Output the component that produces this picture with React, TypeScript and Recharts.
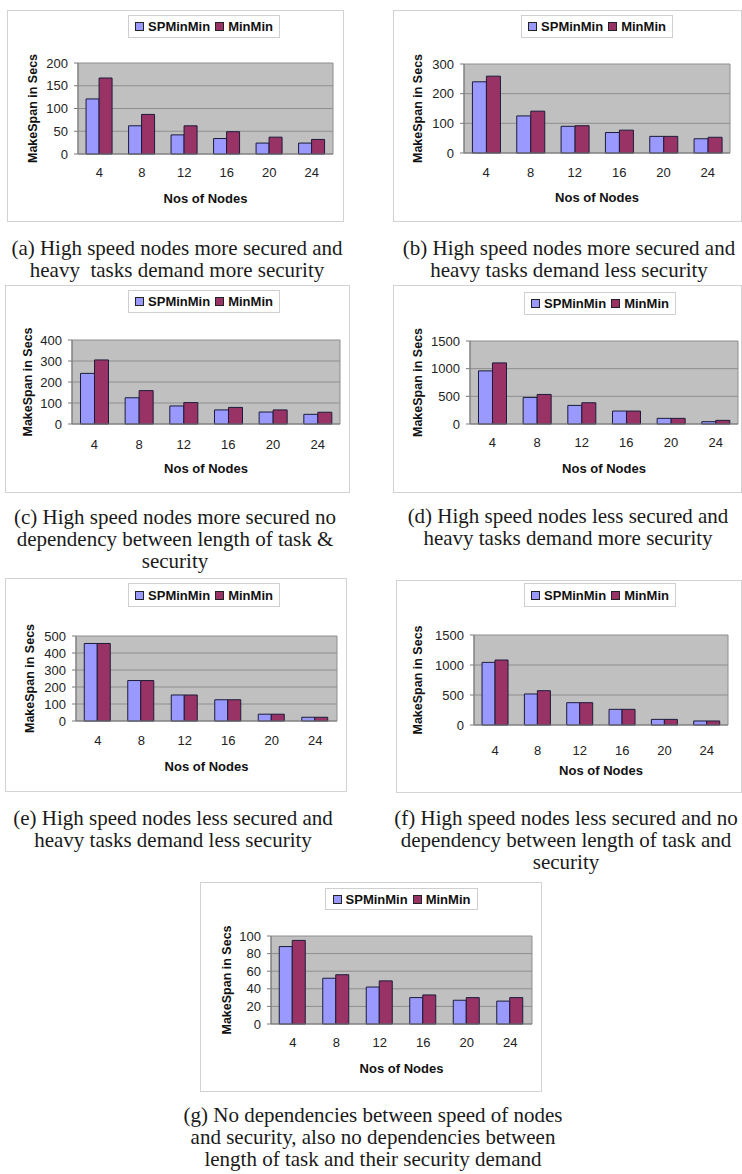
import React from 'react';
import { BarChart, Bar, XAxis, YAxis, CartesianGrid, Legend } from 'recharts';

const nodes = ['4', '8', '12', '16', '20', '24'];

const spA = [121, 62, 42, 34, 24, 24];
const mmA = [167, 87, 62, 49, 37, 32];
const ticksA = [0, 50, 100, 150, 200];

const spB = [240, 125, 90, 69, 56, 48];
const mmB = [259, 141, 92, 77, 56, 53];
const ticksB = [0, 100, 200, 300];

const spC = [241, 125, 86, 67, 57, 46];
const mmC = [305, 159, 102, 79, 67, 56];
const ticksC = [0, 100, 200, 300, 400];

const spD = [960, 480, 336, 234, 102, 42];
const mmD = [1104, 534, 384, 234, 102, 66];
const ticksD = [0, 500, 1000, 1500];

const spE = [456, 238, 153, 125, 40, 22];
const mmE = [456, 238, 153, 125, 40, 22];
const ticksE = [0, 100, 200, 300, 400, 500];

const spF = [1044, 517, 372, 261, 94, 67];
const mmF = [1083, 572, 372, 261, 94, 67];
const ticksF = [0, 500, 1000, 1500];

const spG = [88, 52, 42, 30, 27, 26];
const mmG = [95, 56, 49, 33, 30, 30];
const ticksG = [0, 20, 40, 60, 80, 100];

const captionA = ['(a) High speed nodes more secured and', 'heavy  tasks demand more security'];
const captionB = ['(b) High speed nodes more secured and', 'heavy tasks demand less security'];
const captionC = ['(c) High speed nodes more secured no', 'dependency between length of task &', 'security'];
const captionD = ['(d) High speed nodes less secured and', 'heavy tasks demand more security'];
const captionE = ['(e) High speed nodes less secured and', 'heavy tasks demand less security'];
const captionF = ['(f) High speed nodes less secured and no', 'dependency between length of task and', 'security'];
const captionG = ['(g) No dependencies between speed of nodes', 'and security, also no dependencies between', 'length of task and their security demand'];

const SERIES_SP = 'SPMinMin';
const SERIES_MM = 'MinMin';
const SERIES_ORDER = [SERIES_SP, SERIES_MM];
const X_TITLE = 'Nos of Nodes';
const Y_TITLE = 'MakeSpan in Secs';

const SANS = '"Liberation Sans", Arial, sans-serif';
const SERIF = '"Liberation Serif", "Times New Roman", serif';

type Rect = [number, number, number, number];

interface PanelSpec {
  frame: Rect;
  plot: Rect;
  legend: Rect;
  yTitleX: number;
  tickOff: number;
  titleOff: number;
  sp: number[];
  mm: number[];
  ticks: number[];
  caption: string[];
  capX: number;
  capTop: number;
}

const panels: PanelSpec[] = [
  { frame: [7, 10, 337, 212], plot: [78, 63, 255, 91], legend: [128, 15, 152, 23], yTitleX: 33, tickOff: 19, titleOff: 44, sp: spA, mm: mmA, ticks: ticksA, caption: captionA, capX: 177, capTop: 237 },
  { frame: [393, 10, 349, 212], plot: [464, 64, 266, 89], legend: [521, 15, 152, 23], yTitleX: 418, tickOff: 20, titleOff: 44, sp: spB, mm: mmB, ticks: ticksB, caption: captionB, capX: 569, capTop: 237 },
  { frame: [5, 285, 345, 208], plot: [72, 340, 268, 84], legend: [128, 290, 152, 23], yTitleX: 28, tickOff: 21, titleOff: 44, sp: spC, mm: mmC, ticks: ticksC, caption: captionC, capX: 175, capTop: 506 },
  { frame: [393, 285, 349, 208], plot: [470, 341, 268, 83], legend: [524, 292, 152, 23], yTitleX: 418, tickOff: 19, titleOff: 44, sp: spD, mm: mmD, ticks: ticksD, caption: captionD, capX: 568, capTop: 505 },
  { frame: [5, 578, 342, 214], plot: [76, 636, 261, 85], legend: [128, 583, 152, 24], yTitleX: 30, tickOff: 20, titleOff: 45, sp: spE, mm: mmE, ticks: ticksE, caption: captionE, capX: 173, capTop: 807 },
  { frame: [396, 580, 346, 213], plot: [474, 635, 254, 90], legend: [524, 583, 152, 24], yTitleX: 418, tickOff: 26, titleOff: 45, sp: spF, mm: mmF, ticks: ticksF, caption: captionF, capX: 566, capTop: 807 },
  { frame: [200, 882, 342, 210], plot: [271, 936, 261, 88], legend: [325, 888, 153, 22], yTitleX: 227, tickOff: 19, titleOff: 44, sp: spG, mm: mmG, ticks: ticksG, caption: captionG, capX: 373, capTop: 1104 },
];

function LegendBox(props: any) {
  const payload = [...(props.payload || [])].sort(
    (a: any, b: any) => SERIES_ORDER.indexOf(a.value) - SERIES_ORDER.indexOf(b.value)
  );
  return (
    <div
      style={{
        boxSizing: 'border-box',
        width: '100%',
        height: '100%',
        background: '#fff',
        border: '1px solid #cfcfcf',
        display: 'flex',
        alignItems: 'center',
        justifyContent: 'center',
        gap: 5,
        fontFamily: SANS,
        fontWeight: 'bold',
        fontSize: 13,
        color: '#111',
      }}
    >
      {payload.map((e: any) => (
        <span key={e.value} style={{ display: 'flex', alignItems: 'center' }}>
          <span
            style={{
              display: 'inline-block',
              width: 7,
              height: 7,
              background: e.color,
              border: '1px solid #222',
              marginRight: 4,
            }}
          />
          <span>{e.value}</span>
        </span>
      ))}
    </div>
  );
}

function Panel({ p }: { p: PanelSpec }) {
  const [fx, fy, fw, fh] = p.frame;
  const [px, py, pw, ph] = p.plot;
  const [lx, ly, lw, lh] = p.legend;
  const YW = 40;
  const XH = 30;
  const margin = {
    top: py - fy,
    left: px - fx - YW,
    right: fx + fw - (px + pw),
    bottom: fy + fh - (py + ph) - XH,
  };
  const data = nodes.map((n, i) => ({ n, sp: p.sp[i], mm: p.mm[i] }));
  const max = p.ticks[p.ticks.length - 1];
  const ytx = p.yTitleX - fx;
  const yty = py + ph / 2 - fy;
  const xtx = px + pw / 2 - fx;
  const xty = py + ph + p.titleOff - fy;

  const YTitle = () => (
    <text
      x={ytx}
      y={yty}
      transform={`rotate(-90 ${ytx} ${yty})`}
      textAnchor="middle"
      dominantBaseline="central"
      fontFamily={SANS}
      fontWeight="bold"
      fontSize={12.5}
      fill="#111"
    >
      {Y_TITLE}
    </text>
  );
  const XTitle = () => (
    <text
      x={xtx}
      y={xty}
      textAnchor="middle"
      dominantBaseline="central"
      fontFamily={SANS}
      fontWeight="bold"
      fontSize={13}
      fill="#111"
    >
      {X_TITLE}
    </text>
  );

  return (
    <>
      <div
        style={{
          position: 'absolute',
          left: fx,
          top: fy,
          width: fw,
          height: fh,
          background: '#fff',
          outline: '1px solid #d2d2d2',
          outlineOffset: -1,
        }}
      >
        <BarChart
          width={fw}
          height={fh}
          data={data}
          margin={margin}
          barCategoryGap="19%"
          barGap={0}
        >
          <CartesianGrid
            vertical={true}
            horizontal={true}
            verticalPoints={[px - fx, px - fx + pw]}
            stroke="#8e8e8e"
            fill="#c0c0c0"
            fillOpacity={1}
          />
          <XAxis
            dataKey="n"
            height={XH}
            tickLine={false}
            tickSize={0}
            tickMargin={p.tickOff - 5}
            axisLine={{ stroke: '#7a7a7a' }}
            tick={{ fontFamily: SANS, fontSize: 13, fill: '#222' }}
            label={{ value: X_TITLE, content: XTitle }}
          />
          <YAxis
            width={YW}
            domain={[0, max]}
            ticks={p.ticks}
            interval={0}
            tickSize={4}
            tickMargin={6}
            tickLine={{ stroke: '#7a7a7a' }}
            axisLine={{ stroke: '#7a7a7a' }}
            tick={{ fontFamily: SANS, fontSize: 13, fill: '#222' }}
            label={{ value: Y_TITLE, content: YTitle }}
          />
          <Legend
            verticalAlign="middle"
            align="center"
            layout="horizontal"
            wrapperStyle={{ left: lx - fx, top: ly - fy, width: lw, height: lh }}
            content={LegendBox}
          />
          <Bar dataKey="sp" name={SERIES_SP} fill="#9999ff" stroke="#1c1c3a" strokeWidth={1} isAnimationActive={false} />
          <Bar dataKey="mm" name={SERIES_MM} fill="#993366" stroke="#1c1c3a" strokeWidth={1} isAnimationActive={false} />
        </BarChart>
      </div>
      <div
        style={{
          position: 'absolute',
          left: p.capX - 220,
          top: p.capTop,
          width: 440,
          textAlign: 'center',
          fontFamily: SERIF,
          fontSize: 21,
          lineHeight: '22px',
          color: '#1a1a1a',
          whiteSpace: 'pre',
        }}
      >
        {p.caption.map((c, i) => (
          <div key={i}>{c}</div>
        ))}
      </div>
    </>
  );
}

export default function App() {
  return (
    <div
      style={{
        position: 'absolute',
        left: 0,
        top: 0,
        width: 742,
        height: 1174,
        background: '#fff',
        overflow: 'hidden',
      }}
    >
      {panels.map((p, i) => (
        <Panel key={i} p={p} />
      ))}
    </div>
  );
}
